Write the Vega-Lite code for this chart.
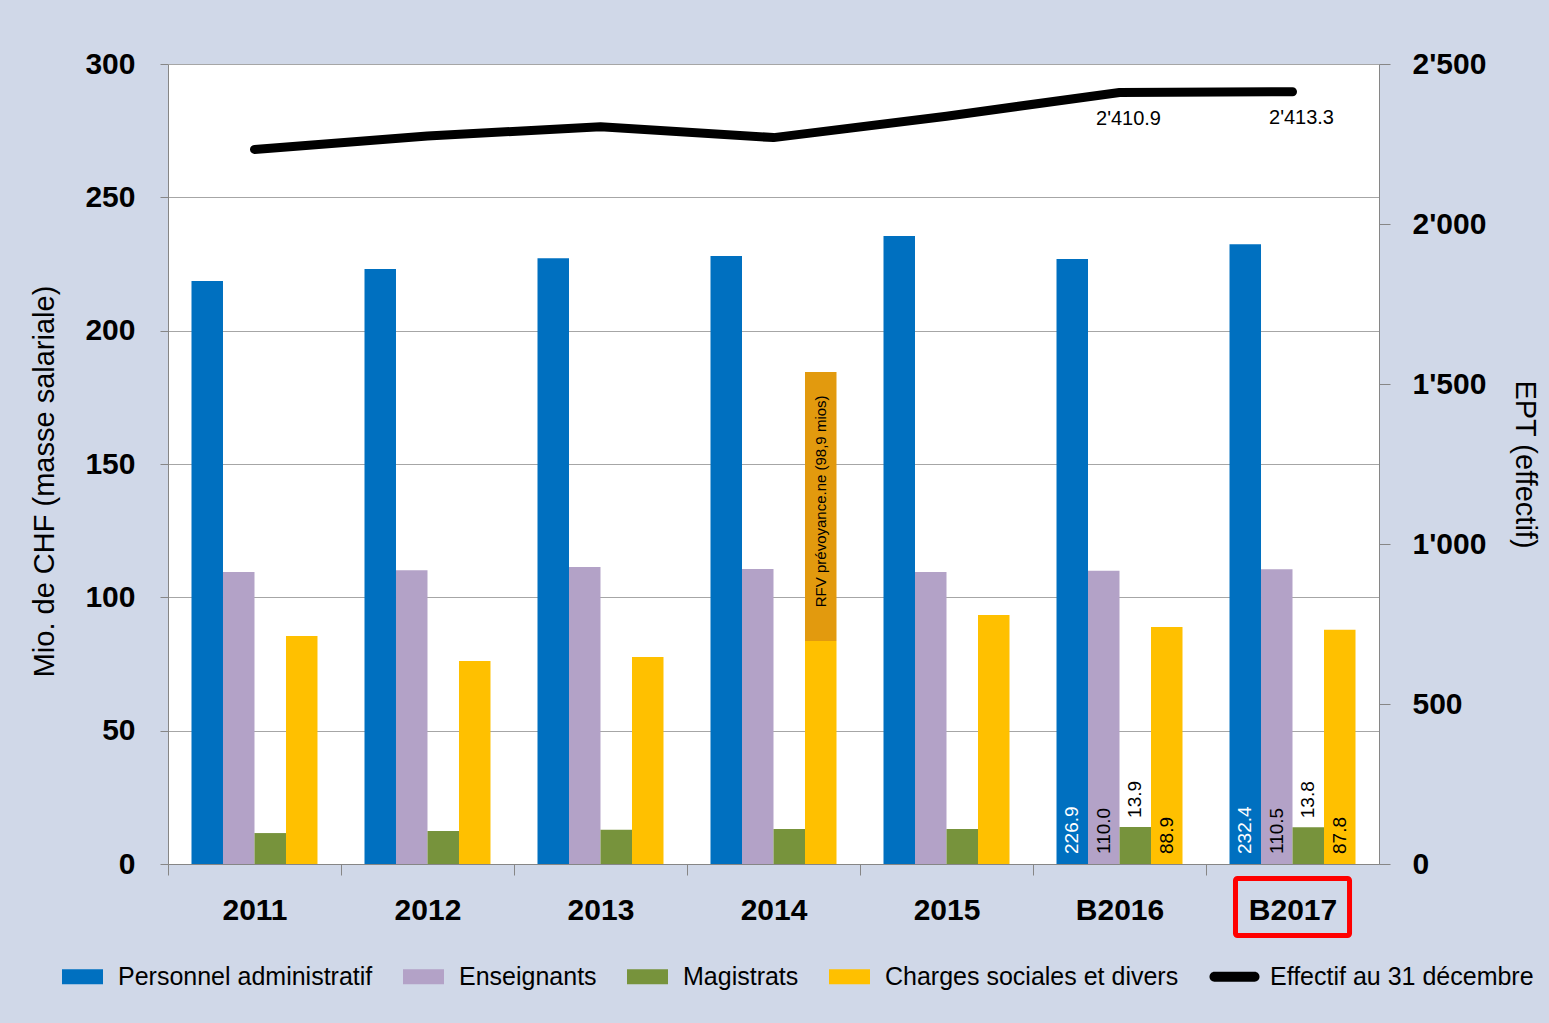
{
  "$schema": "https://vega.github.io/schema/vega-lite/v6.json",
  "width": 1211,
  "height": 800,
  "autosize": {"type": "none"},
  "padding": {"left": 168, "top": 64, "right": 170, "bottom": 159},
  "background": "#D0D8E8",
  "config": {
    "font": "Liberation Sans",
    "view": {"stroke": null, "fill": "white"},
    "locale": {"number": {"decimal": ".", "thousands": "'", "grouping": [3], "currency": ["", ""]}},
    "axis": {"domainColor": "#868686", "tickColor": "#868686", "gridColor": "#A6A6A6", "labelColor": "black", "titleColor": "black"}
  },
  "datasets": {
    "bars": [
      {"year": "2011", "series": "Personnel administratif", "slot": "Personnel administratif", "value": 218.6},
      {"year": "2011", "series": "Enseignants", "slot": "Enseignants", "value": 109.5},
      {"year": "2011", "series": "Magistrats", "slot": "Magistrats", "value": 11.6},
      {"year": "2011", "series": "Charges sociales et divers", "slot": "Charges sociales et divers", "value": 85.5},
      {"year": "2012", "series": "Personnel administratif", "slot": "Personnel administratif", "value": 223.1},
      {"year": "2012", "series": "Enseignants", "slot": "Enseignants", "value": 110.2},
      {"year": "2012", "series": "Magistrats", "slot": "Magistrats", "value": 12.4},
      {"year": "2012", "series": "Charges sociales et divers", "slot": "Charges sociales et divers", "value": 76.1},
      {"year": "2013", "series": "Personnel administratif", "slot": "Personnel administratif", "value": 227.2},
      {"year": "2013", "series": "Enseignants", "slot": "Enseignants", "value": 111.4},
      {"year": "2013", "series": "Magistrats", "slot": "Magistrats", "value": 12.8},
      {"year": "2013", "series": "Charges sociales et divers", "slot": "Charges sociales et divers", "value": 77.6},
      {"year": "2014", "series": "Personnel administratif", "slot": "Personnel administratif", "value": 228.0},
      {"year": "2014", "series": "Enseignants", "slot": "Enseignants", "value": 110.6},
      {"year": "2014", "series": "Magistrats", "slot": "Magistrats", "value": 13.1},
      {"year": "2014", "series": "Charges sociales et divers", "slot": "Charges sociales et divers", "value": 83.6},
      {"year": "2014", "series": "RFV", "slot": "Charges sociales et divers", "value": 100.9},
      {"year": "2015", "series": "Personnel administratif", "slot": "Personnel administratif", "value": 235.5},
      {"year": "2015", "series": "Enseignants", "slot": "Enseignants", "value": 109.5},
      {"year": "2015", "series": "Magistrats", "slot": "Magistrats", "value": 13.1},
      {"year": "2015", "series": "Charges sociales et divers", "slot": "Charges sociales et divers", "value": 93.4},
      {"year": "B2016", "series": "Personnel administratif", "slot": "Personnel administratif", "value": 226.9},
      {"year": "B2016", "series": "Enseignants", "slot": "Enseignants", "value": 110.0},
      {"year": "B2016", "series": "Magistrats", "slot": "Magistrats", "value": 13.9},
      {"year": "B2016", "series": "Charges sociales et divers", "slot": "Charges sociales et divers", "value": 88.9},
      {"year": "B2017", "series": "Personnel administratif", "slot": "Personnel administratif", "value": 232.4},
      {"year": "B2017", "series": "Enseignants", "slot": "Enseignants", "value": 110.5},
      {"year": "B2017", "series": "Magistrats", "slot": "Magistrats", "value": 13.8},
      {"year": "B2017", "series": "Charges sociales et divers", "slot": "Charges sociales et divers", "value": 87.8}
    ],
    "line": [
      {"year": "2011", "value": 2233},
      {"year": "2012", "value": 2275},
      {"year": "2013", "value": 2304},
      {"year": "2014", "value": 2270},
      {"year": "2015", "value": 2337},
      {"year": "B2016", "value": 2410.9},
      {"year": "B2017", "value": 2413.3}
    ]
  },
  "encoding": {
    "x": {
      "field": "year",
      "type": "nominal",
      "sort": ["2011", "2012", "2013", "2014", "2015", "B2016", "B2017"],
      "scale": {"paddingInner": 0.2717, "paddingOuter": 0.1358},
      "axis": {
        "title": null,
        "labelAngle": 0,
        "labelFontSize": 30,
        "labelFontWeight": "bold",
        "labelColor": "black",
        "labelPadding": 20,
        "bandPosition": 0,
        "tickOffset": -23.5,
        "labelOffset": 23.5,
        "tickSize": 11,
        "domainColor": "#868686",
        "tickColor": "#868686"
      }
    }
  },
  "layer": [
    {
      "layer": [
        {
          "data": {"name": "bars"},
          "mark": {"type": "bar"},
          "encoding": {
            "xOffset": {
              "field": "slot",
              "type": "nominal",
              "sort": ["Personnel administratif", "Enseignants", "Magistrats", "Charges sociales et divers"],
              "scale": {"paddingInner": 0, "paddingOuter": 0}
            },
            "y": {
              "field": "value",
              "type": "quantitative",
              "stack": "zero",
              "scale": {"domain": [0, 300], "nice": false},
              "axis": {
                "title": "Mio. de CHF (masse salariale)",
                "values": [0, 50, 100, 150, 200, 250, 300],
                "labelFontSize": 30,
                "labelFontWeight": "bold",
                "labelPadding": 25,
                "tickSize": 8,
                "titleFontSize": 29,
                "titleFontWeight": "normal",
                "titlePadding": 25,
                "titleY": 417,
                "grid": true,
                "gridColor": "#A6A6A6"
              }
            },
            "order": {"field": "series", "type": "nominal", "sort": "ascending"},
            "color": {
              "field": "series",
              "type": "nominal",
              "scale": {
                "domain": ["Personnel administratif", "Enseignants", "Magistrats", "Charges sociales et divers", "Effectif au 31 décembre", "RFV"],
                "range": ["#0070C0", "#B3A2C7", "#77933C", "#FFC000", "#000000", "#E29A0E"]
              },
              "legend": {
                "values": ["Personnel administratif", "Enseignants", "Magistrats", "Charges sociales et divers", "Effectif au 31 décembre"],
                "title": null,
                "orient": "none",
                "legendX": -106,
                "legendY": 892,
                "direction": "horizontal",
                "columns": 5,
                "padding": 0,
                "columnPadding": 30,
                "symbolSize": 1681,
                "symbolType": "M-1,-0.36H1V0.36H-1Z",
                "symbolStrokeWidth": 0,
                "labelFontSize": 25,
                "labelColor": "black",
                "labelOffset": 15,
                "labelLimit": 500,
                "encode": {
                  "symbols": {
                    "update": {
                      "shape": {"signal": "datum.value === 'Effectif au 31 décembre' ? 'M-0.98,-0.24H0.98A0.24,0.24,0,0,1,0.98,0.24H-0.98A0.24,0.24,0,0,1,-0.98,-0.24Z' : 'M-1,-0.36H1V0.36H-1Z'"}
                    }
                  }
                }
              }
            }
          }
        },
        {
          "data": {"name": "bars"},
          "transform": [
            {"filter": "(datum.year === 'B2016' || datum.year === 'B2017') && datum.series !== 'Magistrats' && datum.series !== 'RFV'"}
          ],
          "mark": {"type": "text", "angle": 270, "align": "left", "baseline": "middle", "dx": 10, "fontSize": 19},
          "encoding": {
            "xOffset": {
              "field": "slot",
              "type": "nominal",
              "sort": ["Personnel administratif", "Enseignants", "Magistrats", "Charges sociales et divers"],
              "scale": {"paddingInner": 0, "paddingOuter": 0}
            },
            "y": {"datum": 0, "type": "quantitative"},
            "text": {"field": "value", "type": "quantitative", "format": ".1f"},
            "color": {"condition": {"test": "datum.series === 'Personnel administratif'", "value": "white"}, "value": "black"}
          }
        },
        {
          "data": {"name": "bars"},
          "transform": [
            {"filter": "(datum.year === 'B2016' || datum.year === 'B2017') && datum.series === 'Magistrats'"}
          ],
          "mark": {"type": "text", "angle": 270, "align": "left", "baseline": "middle", "dx": 9, "fontSize": 19, "color": "black"},
          "encoding": {
            "xOffset": {
              "field": "slot",
              "type": "nominal",
              "sort": ["Personnel administratif", "Enseignants", "Magistrats", "Charges sociales et divers"],
              "scale": {"paddingInner": 0, "paddingOuter": 0}
            },
            "y": {"field": "value", "type": "quantitative"},
            "text": {"field": "value", "type": "quantitative", "format": ".1f"}
          }
        },
        {
          "data": {"name": "bars"},
          "transform": [{"filter": "datum.series === 'RFV'"}],
          "mark": {"type": "text", "angle": 270, "align": "center", "baseline": "middle", "fontSize": 15, "color": "black"},
          "encoding": {
            "xOffset": {
              "field": "slot",
              "type": "nominal",
              "sort": ["Personnel administratif", "Enseignants", "Magistrats", "Charges sociales et divers"],
              "scale": {"paddingInner": 0, "paddingOuter": 0}
            },
            "y": {"datum": 136, "type": "quantitative"},
            "text": {"value": "RFV prévoyance.ne (98,9 mios)"}
          }
        },
        {
          "data": {"values": [{"year": "B2017"}]},
          "mark": {"type": "bar", "fill": "transparent", "stroke": "#FF0000", "strokeWidth": 5, "cornerRadius": 2, "width": {"band": 0.905}},
          "encoding": {
            "y": {"datum": -5.4, "type": "quantitative"},
            "y2": {"datum": -26.8}
          }
        }
      ]
    },
    {
      "data": {"name": "line"},
      "layer": [
        {
          "mark": {"type": "line", "color": "black", "strokeWidth": 9, "strokeCap": "round", "strokeJoin": "round"},
          "encoding": {
            "y": {
              "field": "value",
              "type": "quantitative",
              "scale": {"domain": [0, 2500], "nice": false},
              "axis": {
                "orient": "right",
                "title": "EPT (effectif)",
                "values": [0, 500, 1000, 1500, 2000, 2500],
                "labelExpr": "format(datum.value, ',.0f')",
                "labelFontSize": 30,
                "labelFontWeight": "bold",
                "labelPadding": 22,
                "tickSize": 11,
                "titleFontSize": 29,
                "titleFontWeight": "normal",
                "titlePadding": 24,
                "grid": false
              }
            }
          }
        },
        {
          "transform": [{"filter": "datum.year === 'B2016' || datum.year === 'B2017'"}],
          "mark": {"type": "text", "align": "center", "baseline": "middle", "dx": 9, "dy": 26, "fontSize": 20, "color": "black"},
          "encoding": {
            "y": {"field": "value", "type": "quantitative", "title": "EPT (effectif)"},
            "text": {"field": "value", "type": "quantitative", "format": ",.1f"}
          }
        }
      ]
    }
  ],
  "resolve": {"scale": {"y": "independent"}}
}
